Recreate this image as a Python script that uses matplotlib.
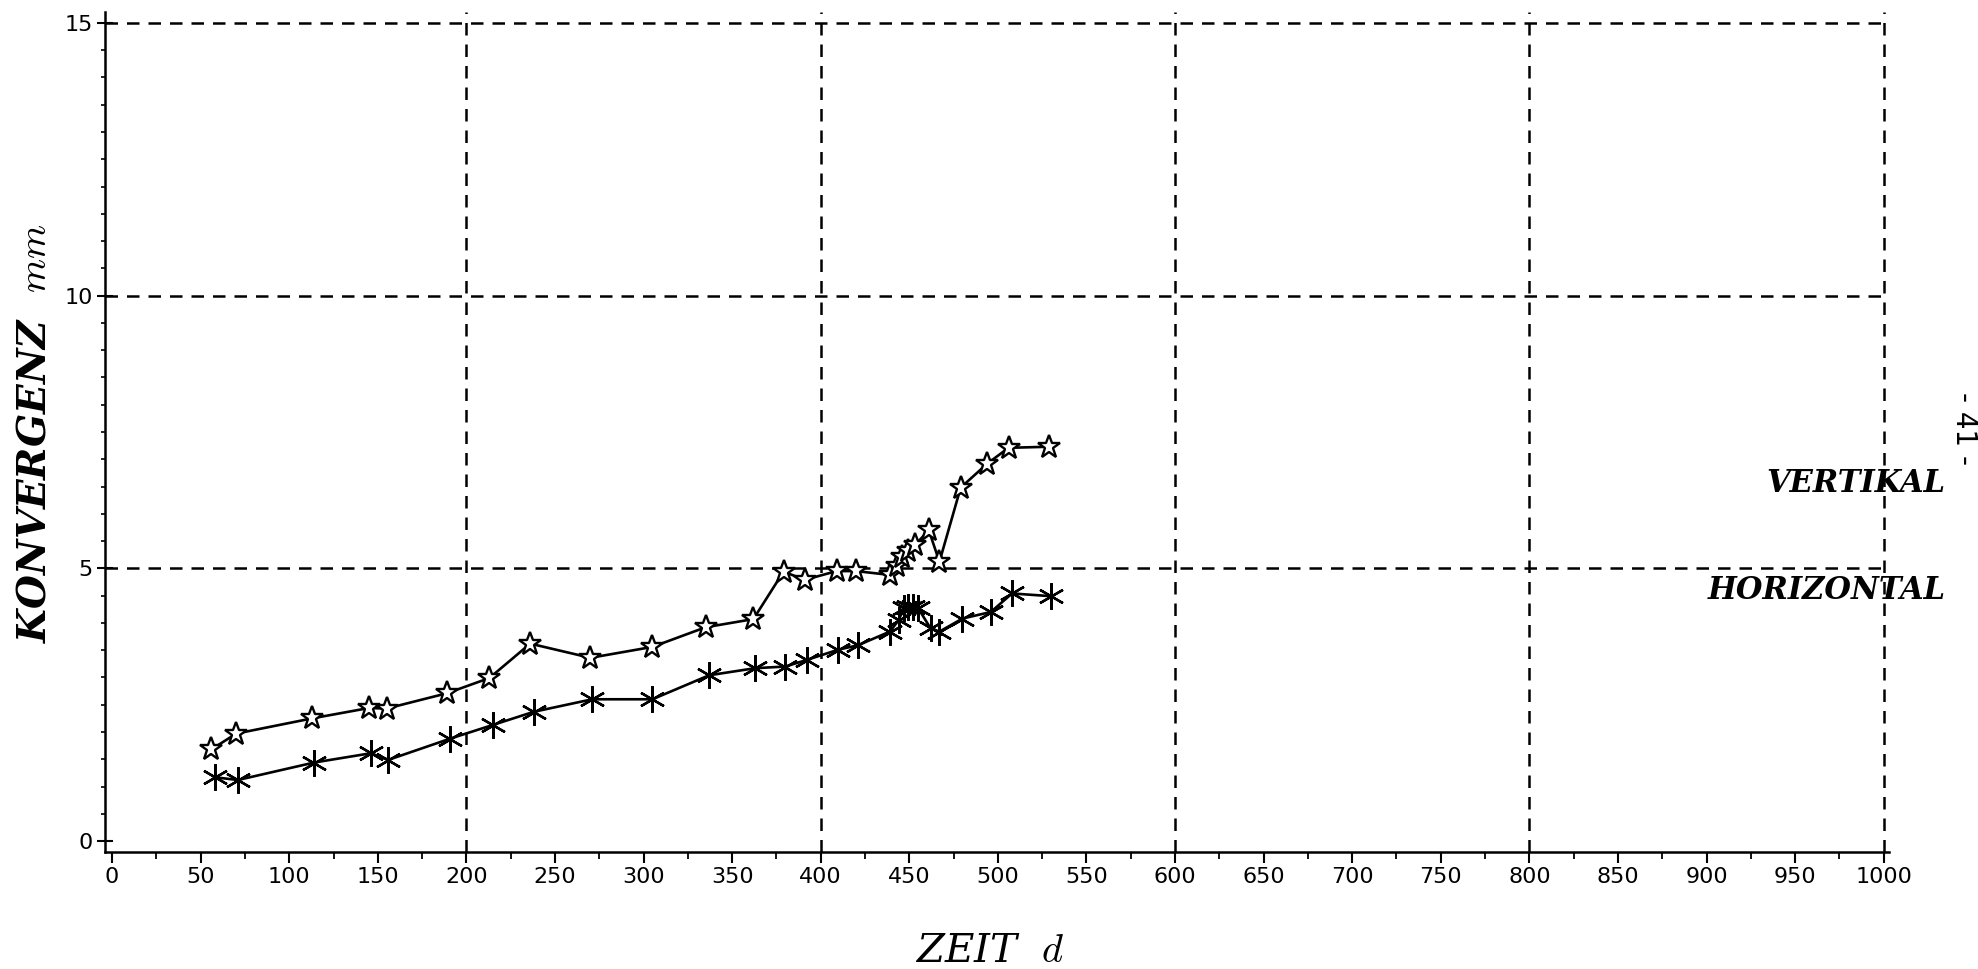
import matplotlib
matplotlib.use('Agg')
import matplotlib.pyplot as plt
from matplotlib import font_manager
from matplotlib.ticker import MultipleLocator

zeit_vertikal = [56, 70, 113, 145, 155, 189, 213, 236, 270, 305, 335, 362, 379, 391,
                 409, 420, 439, 443, 446, 449, 453, 461, 467, 479, 494, 506, 529]
konv_vertikal = [1.68, 1.97, 2.25, 2.44, 2.43, 2.71, 2.99, 3.62, 3.36, 3.56, 3.92, 4.07,
                 4.94, 4.79, 4.95, 4.95, 4.88, 5.05, 5.20, 5.32, 5.42, 5.70, 5.12, 6.48,
                 6.92, 7.21, 7.23]

zeit_horizontal = [58, 71, 114, 146, 156, 191, 215, 238, 271, 305, 337, 363, 380, 392,
                   410, 421, 439, 444, 447, 449, 452, 455, 462, 467, 480, 496, 508, 530]
konv_horizontal = [1.17, 1.12, 1.44, 1.61, 1.49, 1.88, 2.13, 2.37, 2.60, 2.60, 3.04, 3.17,
                   3.20, 3.32, 3.51, 3.59, 3.84, 4.05, 4.28, 4.30, 4.30, 4.27, 3.90, 3.84,
                   4.08, 4.20, 4.54, 4.49]

x_ticks = list(range(0, 1001, 50))
y_ticks = [0, 5, 10, 15]
x_grid = [200, 400, 600, 800, 1000]
y_grid = [5, 10, 15]

installed = {f.name for f in font_manager.fontManager.ttflist}
tick_font = 'Liberation Sans Narrow' if 'Liberation Sans Narrow' in installed else 'DejaVu Sans'
plt.rcParams['mathtext.fontset'] = 'cm'

fig = plt.figure(figsize=(19.78, 9.69), dpi=100)
ax = fig.add_axes([105 / 1978, 1 - 852 / 969, 1784 / 1978, 840 / 969])

ax.set_xlim(-4, 1003)
ax.set_ylim(-0.2, 15.2)

# Gitter
grid_style = dict(color='black', linewidth=1.8, linestyle=(0, (5, 3.6)), zorder=1)
for gx in x_grid:
    ax.axvline(gx, **grid_style)
ax.hlines(y_grid, -4, 1000, **grid_style)

ax.plot(zeit_vertikal, konv_vertikal, color='black', linewidth=1.9, marker='*',
        markersize=17, markerfacecolor='white', markeredgecolor='black',
        markeredgewidth=1.7, zorder=3)
ax.plot(zeit_horizontal, konv_horizontal, color='black', linewidth=1.9, marker=(6, 2, 0),
        markersize=19, markeredgecolor='black', markeredgewidth=1.7, zorder=3)

for s in ['top', 'right']:
    ax.spines[s].set_visible(False)
for s in ['left', 'bottom']:
    ax.spines[s].set_linewidth(1.8)

ax.set_xticks(x_ticks)
ax.set_yticks(y_ticks)
ax.xaxis.set_minor_locator(MultipleLocator(25))
ax.yaxis.set_minor_locator(MultipleLocator(0.5))
ax.tick_params(axis='x', which='major', direction='out', length=8, width=1.5, pad=3)
ax.tick_params(axis='x', which='minor', direction='out', length=5, width=1.3)
ax.tick_params(axis='y', which='major', direction='inout', length=12, width=1.5, pad=3)
ax.tick_params(axis='y', which='minor', direction='out', length=3, width=1.2)
for lab in ax.get_xticklabels() + ax.get_yticklabels():
    lab.set_fontfamily(tick_font)
    lab.set_fontsize(16)

fig.text(35 / 1978, 1 - 433 / 969, r'KONVERGENZ  $mm$', rotation=90, ha='center',
         va='center', fontsize=28, family='DejaVu Serif', style='italic',
         fontweight='bold')
fig.text(990 / 1978, 7 / 969, r'ZEIT  $d$', ha='center', va='baseline',
         fontsize=29, family='DejaVu Serif', style='italic')

# Kurvenbeschriftung rechts
ax.text(1035, 6.55, 'VERTIKAL', ha='right', va='center', fontsize=22,
        family='DejaVu Serif', style='italic', fontweight='bold', clip_on=False)
ax.text(1035, 4.60, 'HORIZONTAL', ha='right', va='center', fontsize=22,
        family='DejaVu Serif', style='italic', fontweight='bold', clip_on=False)

# Seitenzahl am Rand
fig.text(1964 / 1978, 1 - 428 / 969, '- 41 -', rotation=-90, ha='center', va='center',
         fontsize=20, family=tick_font)

fig.savefig('out.png', dpi=100)
